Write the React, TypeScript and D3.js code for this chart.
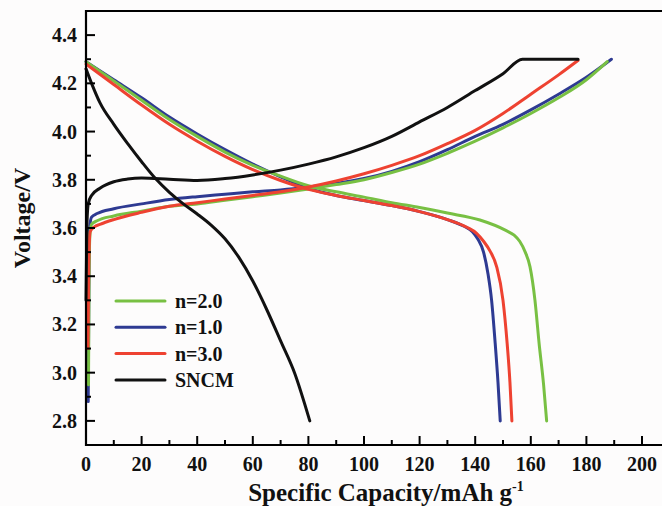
import React from "react";
import * as d3 from "d3";

const W = 662;
const H = 506;

const xTicks = [0, 20, 40, 60, 80, 100, 120, 140, 160, 180, 200];
const yTicks = [2.8, 3.0, 3.2, 3.4, 3.6, 3.8, 4.0, 4.2, 4.4];

const seriesNames = ["n=2.0", "n=1.0", "n=3.0", "SNCM"];
const seriesColors = ["#78c043", "#2e3a92", "#ee4231", "#111111"];

// n=2.0 (green)
const greenCharge: [number, number][] = [
  [0.9, 2.95], [1.1, 3.4], [1.4, 3.57], [2, 3.615], [4, 3.63], [10, 3.65], [20, 3.67], [30, 3.69],
  [40, 3.70], [50, 3.715], [60, 3.73], [70, 3.745], [80, 3.762], [90, 3.78], [100, 3.80],
  [110, 3.83], [120, 3.865], [130, 3.91], [140, 3.96], [150, 4.015], [160, 4.075],
  [170, 4.14], [180, 4.215], [187.5, 4.29],
];
const greenDischarge: [number, number][] = [
  [0, 4.29], [10, 4.21], [20, 4.13], [30, 4.05], [40, 3.98], [50, 3.915], [60, 3.86],
  [70, 3.815], [80, 3.775], [90, 3.75], [100, 3.728], [110, 3.705], [120, 3.685],
  [130, 3.662], [141.7, 3.633], [151, 3.59], [154, 3.57], [156, 3.545], [158, 3.50],
  [159.7, 3.44], [161.5, 3.30], [163, 3.12], [164.6, 2.95], [165.7, 2.80],
];

// n=1.0 (blue)
const blueCharge: [number, number][] = [
  [0.8, 2.88], [1.0, 3.3], [1.3, 3.6], [2, 3.645], [4, 3.66], [10, 3.68], [20, 3.70],
  [30, 3.718], [40, 3.73], [50, 3.74], [60, 3.75], [70, 3.758], [80, 3.77], [90, 3.785],
  [100, 3.805], [110, 3.835], [120, 3.875], [130, 3.925], [140, 3.98], [150, 4.03],
  [160, 4.09], [170, 4.155], [180, 4.225], [189, 4.30],
];
const blueDischarge: [number, number][] = [
  [0, 4.29], [10, 4.215], [20, 4.14], [30, 4.06], [40, 3.99], [50, 3.925], [60, 3.865],
  [70, 3.812], [80, 3.765], [90, 3.735], [100, 3.714], [110, 3.693], [120, 3.668],
  [130, 3.635], [136, 3.607], [139, 3.585], [141, 3.553], [143, 3.50], [144.6, 3.41],
  [145.9, 3.30], [147.2, 3.12], [148.2, 2.96], [149, 2.80],
];

// n=3.0 (red)
const redCharge: [number, number][] = [
  [0.7, 3.1], [1.0, 3.45], [1.5, 3.585], [3, 3.605], [5, 3.615], [10, 3.635], [20, 3.665],
  [30, 3.69], [40, 3.705], [50, 3.72], [60, 3.735], [70, 3.75], [80, 3.77], [90, 3.795],
  [100, 3.825], [110, 3.86], [120, 3.90], [130, 3.95], [140, 4.005], [150, 4.075],
  [160, 4.155], [170, 4.235], [177, 4.295],
];
const redDischarge: [number, number][] = [
  [0, 4.28], [10, 4.195], [20, 4.11], [30, 4.03], [40, 3.96], [50, 3.897], [60, 3.842],
  [70, 3.797], [80, 3.76], [90, 3.735], [100, 3.714], [110, 3.693], [120, 3.668],
  [130, 3.635], [137, 3.603], [140.5, 3.578], [143, 3.545], [145.3, 3.505], [147.7, 3.44],
  [150, 3.30], [151.5, 3.12], [152.5, 2.96], [153.2, 2.80],
];

// SNCM (black)
const blackCharge: [number, number][] = [
  [0, 3.3], [0.3, 3.6], [0.8, 3.70], [2, 3.735], [5, 3.765], [10, 3.792], [15, 3.803],
  [20, 3.807], [30, 3.802], [40, 3.797], [50, 3.805], [60, 3.82], [70, 3.84], [80, 3.865],
  [90, 3.895], [100, 3.933], [110, 3.98], [120, 4.04], [130, 4.10], [140, 4.17],
  [150, 4.24], [157, 4.30], [177, 4.30],
];
const blackDischarge: [number, number][] = [
  [0, 4.26], [2, 4.20], [5, 4.12], [10, 4.03], [15, 3.95], [20, 3.875], [25, 3.805],
  [30, 3.748], [35, 3.70], [40, 3.658], [45, 3.612], [50, 3.555], [55, 3.478], [60, 3.38],
  [65, 3.262], [70, 3.132], [75, 3.0], [80.5, 2.80],
];

const margin = { left: 86, top: 12, bottom: 444 };

export default function App() {
  const x = d3.scaleLinear().domain([0, 220]).range([margin.left, margin.left + 220 * 2.78]);
  const y = d3.scaleLinear().domain([2.7, 4.5]).range([445, 11]);
  const line = d3
    .line<[number, number]>()
    .x((d) => x(d[0]))
    .y((d) => y(d[1]))
    .curve(d3.curveMonotoneX);

  const curves: { data: [number, number][]; color: string }[] = [
    { data: blueCharge, color: seriesColors[1] },
    { data: blueDischarge, color: seriesColors[1] },
    { data: greenCharge, color: seriesColors[0] },
    { data: greenDischarge, color: seriesColors[0] },
    { data: redCharge, color: seriesColors[2] },
    { data: redDischarge, color: seriesColors[2] },
    { data: blackCharge, color: seriesColors[3] },
    { data: blackDischarge, color: seriesColors[3] },
  ];

  const xMinor = d3.range(0, 221, 10).filter((v) => v % 20 !== 0);
  const yMinor = d3.range(27, 45, 1).map((v) => v / 10).filter((v) => Math.round(v * 10) % 2 !== 0);
  const font = "'Liberation Serif', 'Times New Roman', serif";
  const xEnd = W + 2;

  return (
    <div style={{ position: "fixed", left: 0, top: 0 }}>
      <svg width={W} height={H} style={{ display: "block", background: "#fdfcfc" }}>
        <rect x={0} y={0} width={W} height={H} fill="#fdfcfc" />
        {curves.map((c, i) => (
          <path key={i} d={line(c.data) || ""} fill="none" stroke={c.color} strokeWidth={3} strokeLinecap="round" strokeLinejoin="round" />
        ))}
        {/* axes frame */}
        <line x1={margin.left} x2={xEnd} y1={y(4.5)} y2={y(4.5)} stroke="#000" strokeWidth={2} />
        <line x1={margin.left} x2={xEnd} y1={y(2.7)} y2={y(2.7)} stroke="#000" strokeWidth={2.2} />
        <line x1={margin.left} x2={margin.left} y1={y(4.5) - 1} y2={y(2.7) + 1} stroke="#000" strokeWidth={2.2} />
        {xTicks.map((t) => (
          <g key={"xt" + t}>
            <line x1={x(t)} x2={x(t)} y1={y(2.7)} y2={y(2.7) - 9} stroke="#000" strokeWidth={2} />
            <text x={x(t)} y={y(2.7) + 26} textAnchor="middle" fontFamily={font} fontWeight="bold" fontSize={20} fill="#111">
              {t}
            </text>
          </g>
        ))}
        {xMinor.map((t) => (
          <line key={"xm" + t} x1={x(t)} x2={x(t)} y1={y(2.7)} y2={y(2.7) - 5} stroke="#000" strokeWidth={2} />
        ))}
        {yTicks.map((t) => (
          <g key={"yt" + t}>
            <line x1={margin.left} x2={margin.left + 9} y1={y(t)} y2={y(t)} stroke="#000" strokeWidth={2} />
            <text x={77} y={y(t) + 7} textAnchor="end" fontFamily={font} fontWeight="bold" fontSize={20} fill="#111">
              {t.toFixed(1)}
            </text>
          </g>
        ))}
        {yMinor.map((t) => (
          <line key={"ym" + t} x1={margin.left} x2={margin.left + 5} y1={y(t)} y2={y(t)} stroke="#000" strokeWidth={2} />
        ))}
        {/* axis titles */}
        <text transform={`translate(30, ${218}) rotate(-90)`} textAnchor="middle" fontFamily={font} fontWeight="bold" fontSize={24} fill="#111">
          Voltage/V
        </text>
        <text x={386} y={501} textAnchor="middle" fontFamily={font} fontWeight="bold" fontSize={25} fill="#111">
          Specific Capacity/mAh g
          <tspan dy={-10} fontSize={14}>-1</tspan>
        </text>
        {/* legend */}
        {seriesNames.map((n, i) => (
          <g key={n}>
            <line x1={116} x2={165} y1={301 + i * 26.3} y2={301 + i * 26.3} stroke={seriesColors[i]} strokeWidth={3} strokeLinecap="round" />
            <text x={175} y={301 + i * 26.3 + 7} fontFamily={font} fontWeight="bold" fontSize={20} fill="#111">
              {n}
            </text>
          </g>
        ))}
      </svg>
    </div>
  );
}
